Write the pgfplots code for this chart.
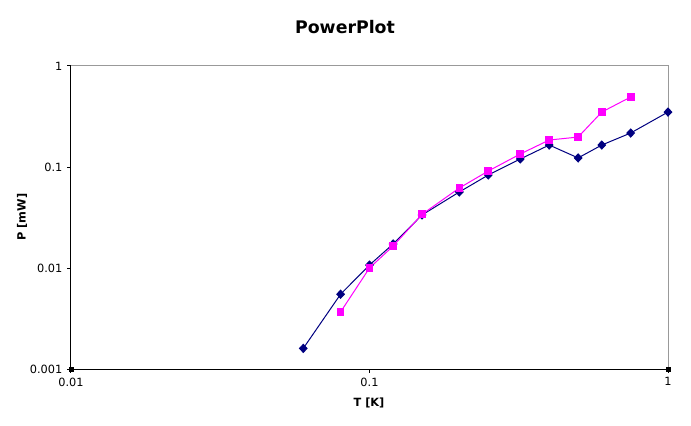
\documentclass[border=0pt]{standalone}
\usepackage{fontspec}
\setmainfont{DejaVu Sans}
\usepackage{pgfplots}
\pgfplotsset{compat=1.18}
\definecolor{navyser}{RGB}{0,0,128}
\definecolor{magser}{RGB}{255,0,255}
\begin{document}
\begin{tikzpicture}
\useasboundingbox (0,0) rectangle (518.25pt,318.75pt);
\begin{axis}[
  at={(53.25pt,42pt)}, anchor=south west,
  scale only axis, width=447.75pt, height=227.25pt,
  xmode=log, ymode=log,
  xmin=0.01, xmax=1, ymin=0.001, ymax=1,
  xtick={0.01,0.1,1}, xticklabels={0.01,0.1,1},
  ytick={0.001,0.01,0.1,1}, yticklabels={0.001,0.01,0.1,1},
  xminorticks=false, yminorticks=false,
  axis x line*=bottom, axis y line*=left,
  axis line style={black, line width=0.75pt, -},
  tick align=outside, major tick length=3pt,
  tick style={black, line width=0.75pt},
  tick label style={font=\fontsize{8.5}{10}\selectfont},
  /pgf/number format/assume math mode=true,
  clip=false,
]
\draw[gray!80, line width=0.75pt] (rel axis cs:0,1) -- (rel axis cs:1,1) -- (rel axis cs:1,0);
\addplot[navyser, line width=0.75pt, mark=diamond*, mark size=3pt, mark options={fill=navyser, xscale=1.25}] coordinates {
 (0.06,0.0016) (0.08,0.0055) (0.1,0.0107) (0.12,0.0173) (0.15,0.0335) (0.2,0.0566)
 (0.25,0.0833) (0.32,0.12) (0.4,0.165) (0.5,0.123) (0.6,0.165) (0.75,0.217) (1,0.35)};
\addplot[magser, line width=0.75pt, mark=square*, mark size=2.5pt, mark options={fill=magser}] coordinates {
 (0.08,0.00367) (0.1,0.010) (0.12,0.0165) (0.15,0.034) (0.2,0.062) (0.25,0.0912)
 (0.32,0.1345) (0.4,0.185) (0.5,0.198) (0.6,0.35) (0.75,0.493)};
\addplot[only marks, black, mark=square*, mark size=1.5pt] coordinates {(0.01,0.001) (1,0.001)};
\end{axis}
\node[font=\bfseries\fontsize{13}{15}\selectfont] at (258.75pt,298.5pt) {PowerPlot};
\node[font=\bfseries\fontsize{8.5}{10}\selectfont, rotate=90] at (16.5pt,156pt) {P [mW]};
\node[font=\bfseries\fontsize{8.5}{10}\selectfont] at (276.75pt,16.5pt) {T [K]};
\end{tikzpicture}
\end{document}
